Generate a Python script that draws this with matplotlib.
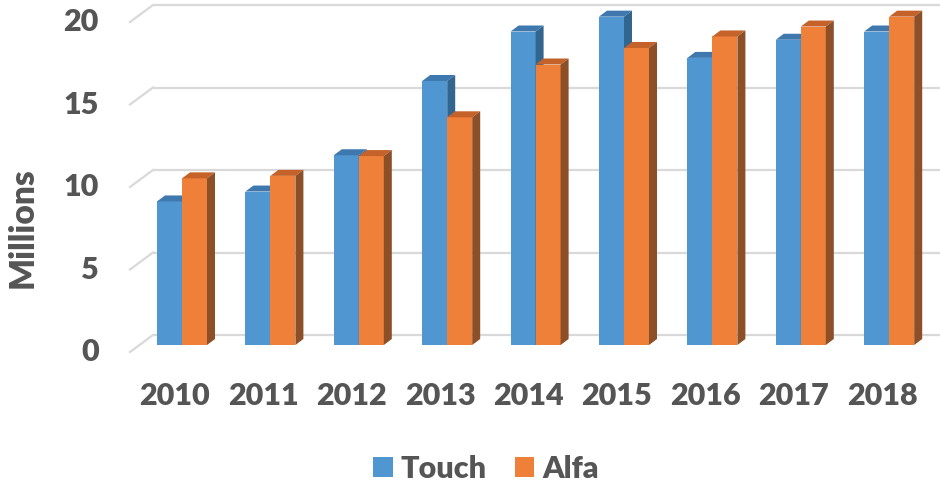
import matplotlib.pyplot as plt
import numpy as np
from matplotlib.patches import Polygon

years = ['2010', '2011', '2012', '2013', '2014', '2015', '2016', '2017', '2018']
touch = [8.7, 9.3, 11.5, 16.0, 19.0, 19.9, 17.4, 18.5, 19.0]
alfa = [10.1, 10.25, 11.45, 13.8, 17.0, 18.0, 18.7, 19.3, 19.9]
y_ticks = [0, 5, 10, 15, 20]

series = [('Touch', touch, '#5096D0', '#3E78AE', '#33668F'),
          ('Alfa', alfa, '#EF8039', '#C4622A', '#8C4F27')]

plt.rcParams['font.family'] = ['Lato', 'DejaVu Sans']
TEXT = '#555555'
FS = 22
WT = 'heavy'

fig = plt.figure(figsize=(9.4, 4.88), dpi=100)
ax = fig.add_axes([0, 0, 1, 1])
ax.axis('off')

# pixel mapping: category step ~88.4 px, 16.5 px per million
px_x, px_y = 88.4, 16.5
ax.set_xlim(-182 / px_x, (940 - 182) / px_x)
ax.set_ylim((345 - 488) / px_y, 345 / px_y)

# oblique depth of the back wall and of the bars (in data units)
wall_dx, wall_dy = 23 / px_x, 17 / px_y
bar_dx, bar_dy = 8 / px_x, 6 / px_y
bw = 25 / px_x

# gridlines on back wall + diagonal to front
x_wall = -29 / px_x
for g in y_ticks:
    yb = g + 10 / px_y
    ax.plot([x_wall, ax.get_xlim()[1]], [yb, yb], color='#D9D9D9', lw=1.6, zorder=1,
            solid_capstyle='butt')
    ax.plot([x_wall - wall_dx, x_wall], [yb - wall_dy, yb], color='#D9D9D9', lw=1.6, zorder=1)
    ax.text(x_wall - wall_dx - 31 / px_x, yb - wall_dy, str(g), ha='right', va='center',
            fontsize=FS, fontweight=WT, color=TEXT)

x = np.arange(len(years))
z = 2
for k, (name, vals, c_front, c_top, c_side) in enumerate(series):
    left = x - bw + k * bw
    ax.bar(left, vals, width=bw, align='edge', color=c_front, zorder=z, label=name)
    for xl, v in zip(left, vals):
        xr = xl + bw
        top = Polygon([(xl, v), (xr, v), (xr + bar_dx, v + bar_dy), (xl + bar_dx, v + bar_dy)],
                      closed=True, facecolor=c_top, edgecolor='none', zorder=z)
        side = Polygon([(xr, 0), (xr + bar_dx, bar_dy), (xr + bar_dx, v + bar_dy), (xr, v)],
                       closed=True, facecolor=c_side, edgecolor='none', zorder=z)
        ax.add_patch(top)
        ax.add_patch(side)
    z += 1

# category labels
for i, yr in enumerate(years):
    ax.text(i - 7 / px_x, (345 - 396) / px_y, yr, ha='center', va='center',
            fontsize=FS, fontweight=WT, color=TEXT)

ax.text(-159 / px_x, (345 - 228) / px_y, 'Millions', rotation=90, ha='center', va='center',
        fontsize=24, fontweight=WT, color=TEXT)

leg = ax.legend(loc='center', bbox_to_anchor=(486 / 940, 1 - 469 / 488), ncol=2, frameon=False,
                prop={'size': FS, 'weight': WT}, handlelength=0.65, handleheight=0.65,
                handletextpad=0.27, columnspacing=0.9, borderpad=0)
for t in leg.get_texts():
    t.set_color(TEXT)

fig.savefig('out.png', dpi=100)
